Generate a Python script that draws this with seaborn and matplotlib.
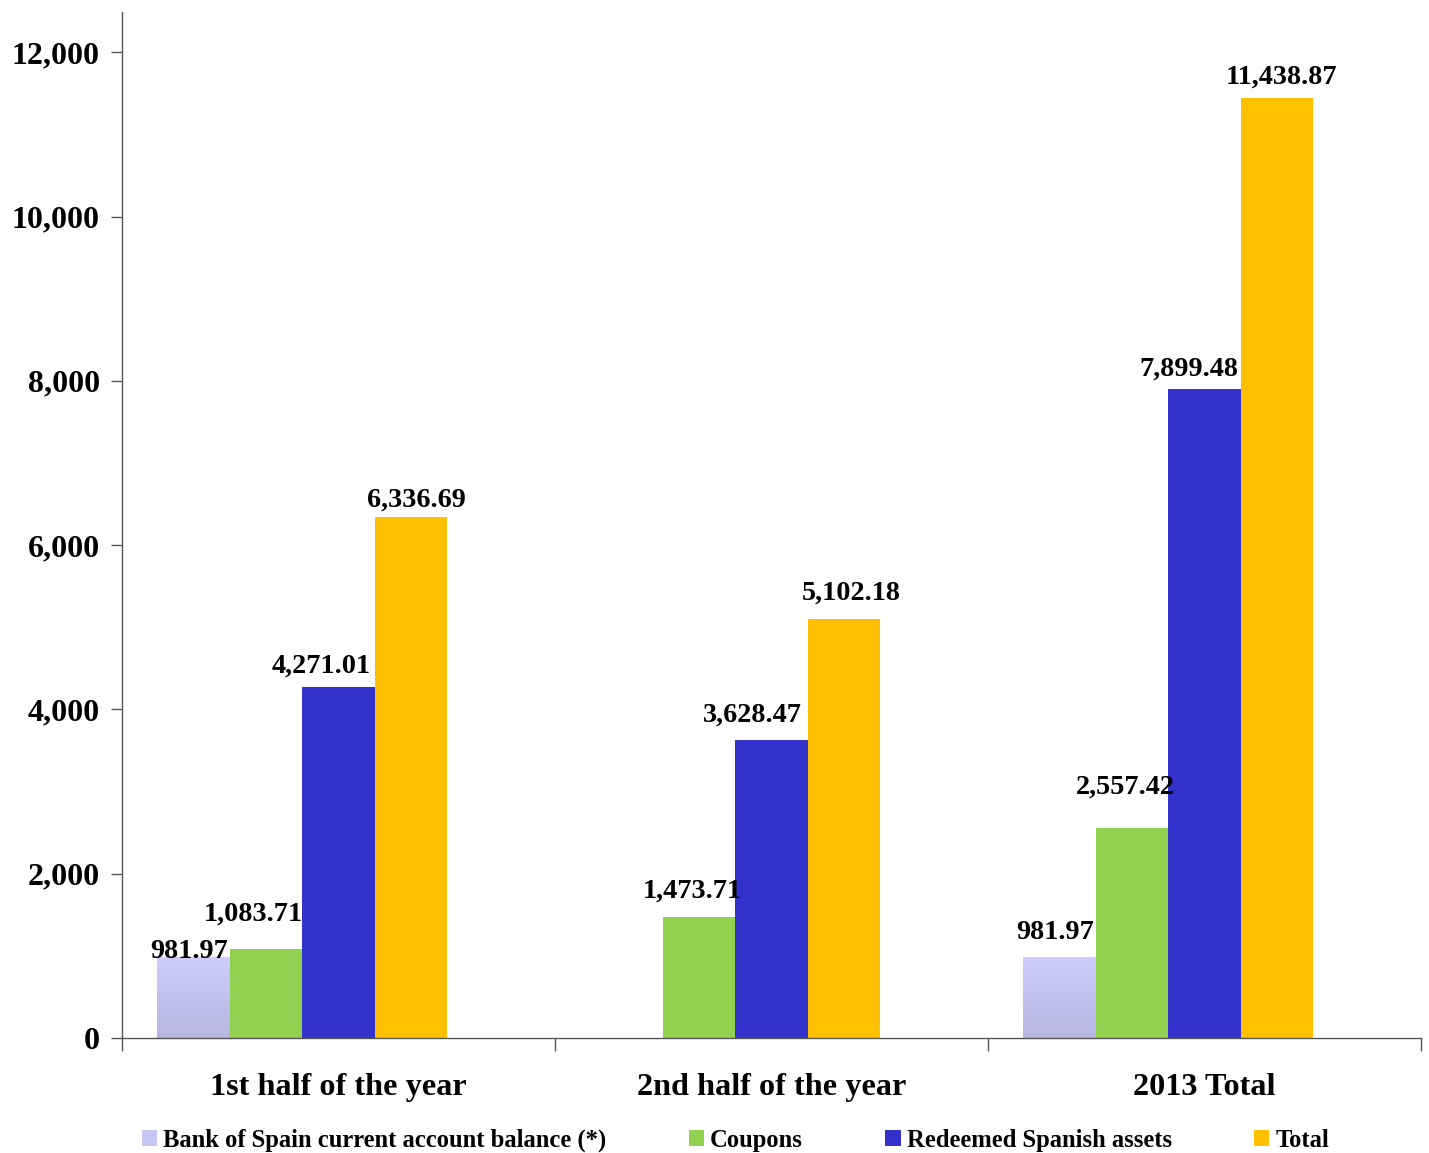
import numpy as np
import pandas as pd
import matplotlib
matplotlib.use("Agg")
import matplotlib.pyplot as plt
from matplotlib.colors import LinearSegmentedColormap
from matplotlib.patches import Patch
import seaborn as sns

categories = ["1st half of the year", "2nd half of the year", "2013 Total"]
series = ["Bank of Spain current account balance (*)", "Coupons",
          "Redeemed Spanish assets", "Total"]
bank_of_spain = [981.97, np.nan, 981.97]
coupons = [1083.71, 1473.71, 2557.42]
redeemed = [4271.01, 3628.47, 7899.48]
total = [6336.69, 5102.18, 11438.87]
pad = [0.0, 0.0, 0.0]  # empty slot (Excel-style hidden 5th series)
yticks = [0, 2000, 4000, 6000, 8000, 10000, 12000]

colors = ["#C6C6F4", "#92D050", "#3333CC", "#FFC000", "#FFFFFF"]

# label placement styling (pixel offsets of label centre from bar top-centre), per series per category
label_dx = [[-4, 0, -4], [-13, -7, -7], [-17, -19, -16], [5, 7, 5]]
label_dy = [[6, 0, 25], [35, 26, 41], [21, 25, 20], [17, 26, 21]]

rows = []
for name, vals in zip(series + ["_pad"], [bank_of_spain, coupons, redeemed, total, pad]):
    for c, v in zip(categories, vals):
        rows.append({"category": c, "series": name, "value": v})
df = pd.DataFrame(rows)

sns.set_style("white")
plt.rcParams["font.family"] = ["Liberation Serif", "DejaVu Serif"]
plt.rcParams["font.weight"] = "bold"
plt.rcParams["text.color"] = "black"
plt.rcParams["xtick.color"] = "black"
plt.rcParams["ytick.color"] = "black"

fig = plt.figure(figsize=(14.29, 11.53), dpi=100)
ax = fig.add_axes([0.0854, 0.0997, 0.909, 0.8899])

sns.barplot(data=df, x="category", y="value", hue="series",
            hue_order=series + ["_pad"], order=categories,
            palette=colors, width=0.837, gap=0, dodge=True,
            saturation=1, linewidth=0, ax=ax, errorbar=None)

if ax.get_legend() is not None:
    ax.get_legend().remove()

# gradient on first series
cmap = LinearSegmentedColormap.from_list("lav", ["#B6B6E2", "#CDCDFF"])
grad = np.linspace(0, 1, 256).reshape(-1, 1)
for p in ax.containers[0].patches:
    h = p.get_height()
    if not np.isfinite(h) or h <= 0:
        continue
    x0 = p.get_x(); w = p.get_width()
    im = ax.imshow(grad, extent=[x0, x0 + w, 0, h], origin="lower",
                   aspect="auto", cmap=cmap, zorder=p.get_zorder() + 0.1)
    im.set_clip_path(p)

# data labels
for si, cont in enumerate(list(ax.containers)[:4]):
    vals = [bank_of_spain, coupons, redeemed, total][si]
    patches = list(cont.patches)
    for ci, v in enumerate(vals):
        if not np.isfinite(v):
            continue
        target = None
        for p in patches:
            cx = p.get_x() + p.get_width() / 2
            if abs(cx - ci) < 0.5 and np.isfinite(p.get_height()):
                target = p
        if target is None:
            continue
        cx = target.get_x() + target.get_width() / 2
        ax.annotate(f"{v:,.2f}", xy=(cx, target.get_height()),
                    xytext=(label_dx[si][ci], label_dy[si][ci]), textcoords="offset pixels",
                    ha="center", va="center", fontsize=20.3, fontweight="bold",
                    color="black", zorder=10)

ax.set_xlim(-0.5, 2.5)
ax.set_ylim(0, 12490)
ax.set_yticks(yticks)
ax.set_yticklabels([f"{v:,}" for v in yticks], fontsize=23, fontweight="bold")
ax.set_xticks(range(3))
ax.set_xticklabels(categories, fontsize=23.2, fontweight="bold")
ax.set_xticks([-0.5, 0.5, 1.5, 2.5], minor=True)
ax.tick_params(axis="x", which="major", length=0, pad=25)
ax.tick_params(axis="x", which="minor", length=9, width=1, color="#555555", direction="out", bottom=True)
ax.tick_params(axis="y", which="major", length=8, width=1, color="#555555", direction="out", left=True, pad=8)
ax.set_xlabel("")
ax.set_ylabel("")
for s in ["top", "right"]:
    ax.spines[s].set_visible(False)
for s in ["left", "bottom"]:
    ax.spines[s].set_color("#555555")
    ax.spines[s].set_linewidth(1)

leg_handles = [Patch(facecolor=c, edgecolor="none") for c in colors[:4]]
fig.legend(leg_handles, series, loc="center", bbox_to_anchor=(0.5147, 0.0108),
           ncol=4, frameon=False,
           prop={"family": ["Liberation Serif"], "weight": "bold", "size": 17.7},
           handlelength=0.62, handleheight=0.62, handletextpad=0.25, columnspacing=3.35)

fig.savefig("out.png", dpi=100)
